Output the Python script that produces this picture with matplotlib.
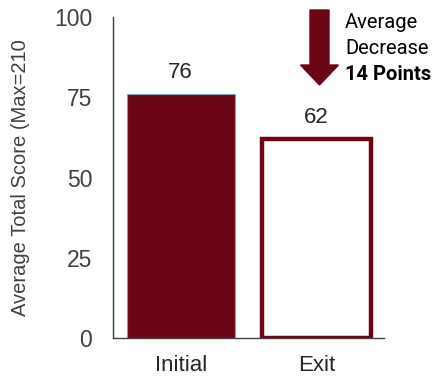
import matplotlib.pyplot as plt
from matplotlib.patches import FancyArrow
from matplotlib.transforms import IdentityTransform

# Data
categories = ["Initial", "Exit"]
scores = [76, 62]
y_ticks = [0, 25, 50, 75, 100]

maroon = "#6B0516"
plt.rcParams['font.family'] = ['Liberation Sans', 'DejaVu Sans']

fig = plt.figure(figsize=(4.43, 3.8), dpi=100)
ax = fig.add_axes([0.255, 0.1105, 0.612, 0.8445])

x = range(len(categories))
bars = ax.bar(x, scores, width=0.8)
# Initial: filled, Exit: outlined only
bars[0].set_facecolor(maroon)
bars[0].set_edgecolor("#7FA7B8")
bars[0].set_linewidth(0.8)
bars[1].set_facecolor("white")
bars[1].set_edgecolor(maroon)
bars[1].set_linewidth(3.2)

for xi, v in zip(x, scores):
    ax.text(xi, v + 5, str(v), ha="center", va="baseline", fontsize=16, color="#262626")

ax.set_xlim(-0.5, 1.5)
ax.set_ylim(0, 100)
ax.set_yticks(y_ticks)
ax.set_xticks(list(x))
ax.set_xticklabels(categories)
ax.tick_params(axis="y", length=0, pad=15, labelsize=16.5, labelcolor="#404040")
ax.tick_params(axis="x", length=0, pad=12, labelsize=16, labelcolor="#262626")
ax.set_ylabel("Average Total Score (Max=210", fontsize=14.5, color="#404040", labelpad=17)

for s in ["top", "right"]:
    ax.spines[s].set_visible(False)
for s in ["left", "bottom"]:
    ax.spines[s].set_color("#404040")
    ax.spines[s].set_linewidth(1)

# Decrease arrow and note (figure pixels)
arrow = FancyArrow(319.5, 380 - 10, 0, -75, width=19, head_width=38, head_length=20,
                   length_includes_head=True, color=maroon, transform=IdentityTransform())
fig.add_artist(arrow)
note_font = ["Roboto", "DejaVu Sans"]
fig.text(345, 380 - 28, "Average", transform=IdentityTransform(), fontsize=14.5,
         color="black", va="baseline", family=note_font)
fig.text(345, 380 - 54, "Decrease", transform=IdentityTransform(), fontsize=14.5,
         color="black", va="baseline", family=note_font)
fig.text(345, 380 - 80, "14 Points", transform=IdentityTransform(), fontsize=14.5,
         color="black", va="baseline", fontweight="bold", family=note_font)

fig.savefig("out.png", dpi=100)
